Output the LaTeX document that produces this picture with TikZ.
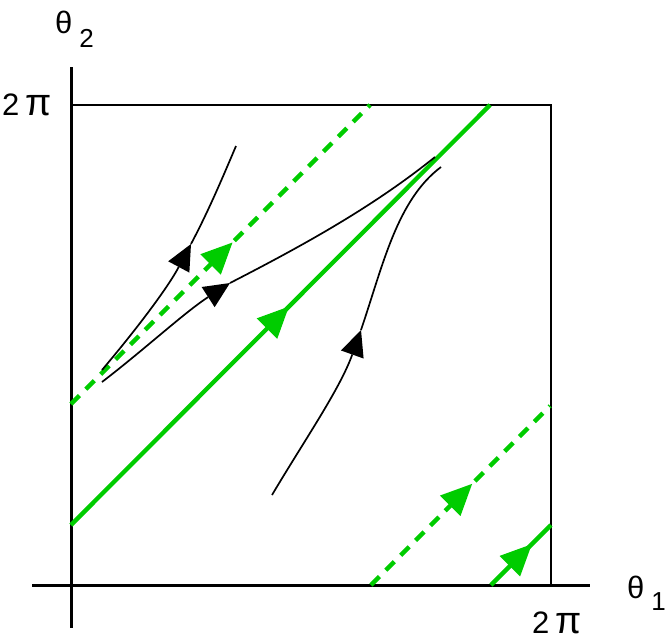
\documentclass[tikz,border=0pt]{standalone}
\usepackage{fontspec}
\setmainfont{Liberation Sans}
\usetikzlibrary{arrows.meta,decorations.markings}
\definecolor{phasegreen}{RGB}{0,204,0}

\begin{document}
\begin{tikzpicture}[x=1pt,y=-1pt,
    flow/.style={line width=4.3pt,phasegreen},
    ghost/.style={flow,dash pattern=on 12pt off 9pt},
    orbit/.style={line width=1.7pt},
    greentip/.style={postaction={decorate,decoration={markings,
        mark=at position #1 with {\arrow{Triangle[length=31pt,width=29pt,line width=0pt]}}}}},
    blacktip/.style={-{Triangle[length=26pt,width=24pt,line width=0pt]}},
    lab/.style={inner sep=0pt,anchor=base west,font=\fontsize{31}{36}\selectfont}]
  \useasboundingbox (0,0) rectangle (668,643);

  % axes and the torus square
  \coordinate (O) at (71,585);
  \coordinate (top) at (71,105);
  \coordinate (corner) at (551,105);
  \coordinate (right) at (551,585);
  \draw[line width=3pt] (71,67) -- (71,628);
  \draw[line width=3pt] (32,585) -- (590,585);
  \draw[line width=1.5pt] (top) -- (corner) -- (right);

  \node[lab] (t2) at (55,33) {θ\hspace{7pt}\raisebox{-14pt}{\fontsize{26}{30}\selectfont 2}};
  \node[lab] (t1) at (627,598) {θ\hspace{7pt}\raisebox{-12pt}{\fontsize{26}{30}\selectfont 1}};
  \node[lab] (p2) at (2,115) {2\hspace{6pt}{\fontsize{38}{40}\selectfont π}};
  \node[lab] (p1) at (532,633) {2\hspace{6pt}{\fontsize{38}{40}\selectfont π}};

  % green orbits
  \coordinate (g1) at (71,525);  \coordinate (g2) at (490,105);
  \coordinate (d1) at (71,404);  \coordinate (d2) at (370,105);
  \coordinate (d3) at (371,585); \coordinate (d4) at (550,406);
  \coordinate (g3) at (491,585); \coordinate (g4) at (551,525);
  \draw[flow,greentip=0.52] (g1) -- (g2);
  \draw[ghost,greentip=0.54] (d1) -- (d2);
  \draw[ghost,greentip=0.565] (d3) -- (d4);
  \draw[flow,greentip=0.68] (g3) -- (g4);

  % black orbits
  \coordinate (s1) at (102,370); \coordinate (a1) at (191,244); \coordinate (e1) at (236,146);
  \coordinate (s2) at (102,382); \coordinate (a2) at (230,283); \coordinate (e2) at (435,157);
  \coordinate (s3) at (272,495); \coordinate (a3) at (361,330); \coordinate (e3) at (441,167);
  \draw[orbit,blacktip] (s1) .. controls (135,331) and (167,289) .. (a1);
  \draw[orbit] (a1) .. controls (208,212) and (222,179) .. (e1);
  \draw[orbit,blacktip] (s2) .. controls (145,349) and (185,312) .. (a2);
  \draw[orbit] (a2) .. controls (302,246) and (373,207) .. (e2);
  \draw[orbit,blacktip] (s3) .. controls (304,441) and (340,389) .. (a3);
  \draw[orbit] (a3) .. controls (383,265) and (397,200) .. (e3);
\end{tikzpicture}
\end{document}
